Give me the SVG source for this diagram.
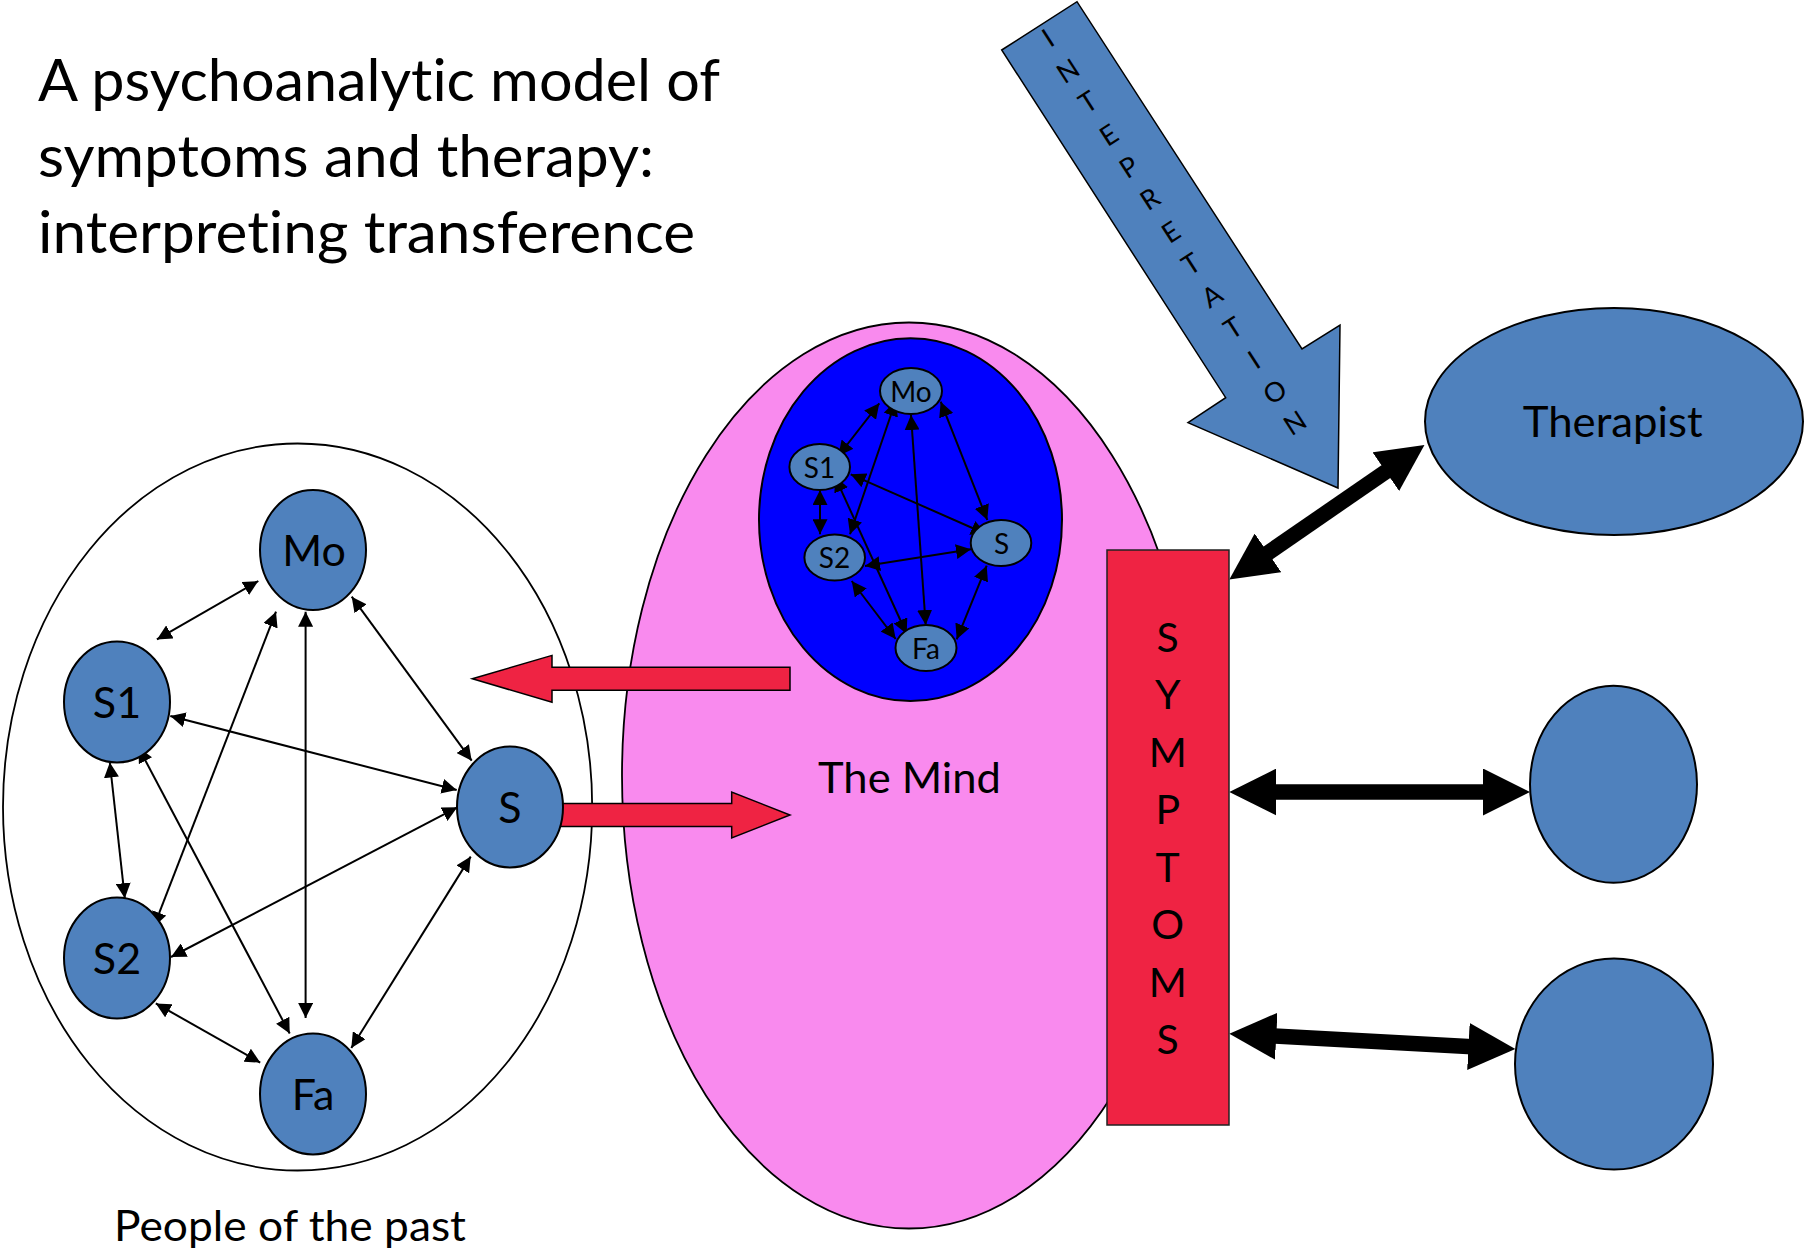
<svg xmlns="http://www.w3.org/2000/svg" width="1804" height="1248" viewBox="0 0 1804 1248">
<style>
text{font-family:Lato,"Open Sans","Liberation Sans",sans-serif;fill:#000;font-variant-ligatures:none;font-feature-settings:"liga" 0,"clig" 0}
.node{fill:#4F81BD;stroke:#000;stroke-width:2}
.lbl{font-size:43px;text-anchor:middle}
.slbl{font-size:28px;text-anchor:middle}
.thin{stroke:#000;stroke-width:2;fill:none;marker-start:url(#ah);marker-end:url(#ah)}
.thick{stroke:#000;stroke-width:15.5;fill:none;marker-start:url(#bh);marker-end:url(#bh)}
.red{fill:#EF2343;stroke:#000;stroke-width:1.5}
.il{font-size:27px;text-anchor:middle}
.sy{font-size:41px;text-anchor:middle}
</style>
<defs>
<marker id="ah" viewBox="0 0 15 15" refX="15" refY="7.5" markerWidth="15" markerHeight="15" markerUnits="userSpaceOnUse" orient="auto-start-reverse"><path d="M0,0 L15,7.5 L0,15 z" fill="#000"/></marker>
<marker id="bh" viewBox="0 0 47 47" refX="27" refY="23.5" markerWidth="47" markerHeight="47" markerUnits="userSpaceOnUse" orient="auto-start-reverse"><path d="M0,0 L47,23.5 L0,47 z" fill="#000"/></marker>
</defs>
<rect width="1804" height="1248" fill="#fff"/>

<g id="title">
<text x="38" y="101" font-size="58" textLength="682" lengthAdjust="spacingAndGlyphs">A psychoanalytic model of</text>
<text x="38" y="177" font-size="58" textLength="616" lengthAdjust="spacingAndGlyphs">symptoms and therapy:</text>
<text x="38" y="253" font-size="58" textLength="657" lengthAdjust="spacingAndGlyphs">interpreting transference</text>
</g>

<g id="people-of-the-past">
<ellipse cx="297.6" cy="807" rx="294.6" ry="363.5" fill="none" stroke="#000" stroke-width="1.8"/>
<text x="114" y="1240.7" font-size="43" textLength="352" lengthAdjust="spacingAndGlyphs">People of the past</text>
</g>

<g id="the-mind">
<ellipse cx="909" cy="775.5" rx="287" ry="453" fill="#F98AEE" stroke="#000" stroke-width="1.8"/>
<ellipse cx="910.5" cy="519.7" rx="151.5" ry="181.4" fill="#0000FF" stroke="#000" stroke-width="2"/>
<text x="909.5" y="792.7" font-size="43" text-anchor="middle" textLength="183" lengthAdjust="spacingAndGlyphs">The Mind</text>
</g>

<g id="connectors">
<polygon class="red" points="472.3,678.8 552,655.4 552,667.3 790,667.3 790,690.3 552,690.3 552,702.2"/>
<polygon class="red" points="550,803.5 731.7,803.5 731.7,792 790,815 731.7,838 731.7,826.5 550,826.5"/>
<line class="thin" x1="156.9" y1="639.4" x2="258.3" y2="581"/>
<line class="thin" x1="153.8" y1="926.9" x2="276" y2="611.7"/>
<line class="thin" x1="305.6" y1="1018" x2="305.6" y2="611.7"/>
<line class="thin" x1="351.7" y1="596.7" x2="471.7" y2="760.7"/>
<line class="thin" x1="170.3" y1="716" x2="456.7" y2="790"/>
<line class="thin" x1="109.8" y1="762.5" x2="124.8" y2="898.2"/>
<line class="thin" x1="138.5" y1="747.5" x2="289.7" y2="1033.5"/>
<line class="thin" x1="171" y1="957" x2="457.3" y2="807.3"/>
<line class="thin" x1="155.8" y1="1003.4" x2="260.2" y2="1062.6"/>
<line class="thin" x1="470.7" y1="856.6" x2="351.3" y2="1048"/>
<line class="thin" x1="879.3" y1="403.3" x2="838.3" y2="456"/>
<line class="thin" x1="895.7" y1="401" x2="850" y2="534.3"/>
<line class="thin" x1="911" y1="415" x2="925.7" y2="625"/>
<line class="thin" x1="940.7" y1="401.7" x2="987.3" y2="520"/>
<line class="thin" x1="850.7" y1="474.3" x2="986" y2="534"/>
<line class="thin" x1="820" y1="490" x2="820" y2="534.3"/>
<line class="thin" x1="835" y1="476.7" x2="906.7" y2="634"/>
<line class="thin" x1="865" y1="566" x2="971" y2="549.3"/>
<line class="thin" x1="851.7" y1="581" x2="895.7" y2="639"/>
<line class="thin" x1="986.7" y1="565.7" x2="956.7" y2="639.3"/>
<line class="thick" x1="1245.8" y1="568.2" x2="1408" y2="456.3"/>
<line class="thick" x1="1249.3" y1="792" x2="1510" y2="792"/>
<line class="thick" x1="1249.3" y1="1034.7" x2="1495.4" y2="1047.9"/>
</g>

<g id="node-mo"><ellipse class="node" cx="313" cy="550" rx="53" ry="60"/><text class="lbl" x="314" y="565.5">Mo</text></g>
<g id="node-s1"><ellipse class="node" cx="117" cy="702" rx="53" ry="60.5"/><text class="lbl" x="117" y="717.5">S1</text></g>
<g id="node-s2"><ellipse class="node" cx="117" cy="958" rx="53" ry="60.5"/><text class="lbl" x="117" y="973.5">S2</text></g>
<g id="node-fa"><ellipse class="node" cx="313" cy="1094" rx="53" ry="60.5"/><text class="lbl" x="313" y="1109.5">Fa</text></g>
<g id="node-s"><ellipse class="node" cx="510" cy="807" rx="53" ry="60.5"/><text class="lbl" x="510" y="822.5">S</text></g>

<g id="inner-mo"><ellipse class="node" cx="911" cy="391" rx="31" ry="23"/><text class="slbl" x="911" y="401.5">Mo</text></g>
<g id="inner-s1"><ellipse class="node" cx="819.7" cy="467" rx="30.3" ry="23"/><text class="slbl" x="819.5" y="477.5">S1</text></g>
<g id="inner-s2"><ellipse class="node" cx="834.7" cy="557.5" rx="30.3" ry="23"/><text class="slbl" x="834.5" y="568">S2</text></g>
<g id="inner-s"><ellipse class="node" cx="1001" cy="543" rx="30.3" ry="23"/><text class="slbl" x="1001.5" y="553.5">S</text></g>
<g id="inner-fa"><ellipse class="node" cx="926" cy="648" rx="30.5" ry="23"/><text class="slbl" x="926" y="658.5">Fa</text></g>

<g id="interpretation">
<polygon points="1001.7,50 1077,1.7 1302,349 1340,325 1338,488 1188,422.7 1225.7,397.7" fill="#4F81BD" stroke="#000" stroke-width="1.5"/>
<text class="il" transform="translate(1048,38) rotate(-32.8)" y="9.5">I</text>
<text class="il" transform="translate(1068,71) rotate(-32.8)" y="9.5">N</text>
<text class="il" transform="translate(1088,102) rotate(-32.8)" y="9.5">T</text>
<text class="il" transform="translate(1109,135) rotate(-32.8)" y="9.5">E</text>
<text class="il" transform="translate(1129,167) rotate(-32.8)" y="9.5">P</text>
<text class="il" transform="translate(1150,199) rotate(-32.8)" y="9.5">R</text>
<text class="il" transform="translate(1171,232) rotate(-32.8)" y="9.5">E</text>
<text class="il" transform="translate(1191,264) rotate(-32.8)" y="9.5">T</text>
<text class="il" transform="translate(1212,296) rotate(-32.8)" y="9.5">A</text>
<text class="il" transform="translate(1233,328) rotate(-32.8)" y="9.5">T</text>
<text class="il" transform="translate(1254,360) rotate(-32.8)" y="9.5">I</text>
<text class="il" transform="translate(1275,392) rotate(-32.8)" y="9.5">O</text>
<text class="il" transform="translate(1295,423) rotate(-32.8)" y="9.5">N</text>
</g>

<g id="symptoms">
<rect x="1107" y="550" width="122" height="575" fill="#EF2343" stroke="#222" stroke-width="1.5"/>
<text class="sy" x="1167.7" y="651.7">S</text>
<text class="sy" x="1167.7" y="709.2">Y</text>
<text class="sy" x="1167.7" y="766.7">M</text>
<text class="sy" x="1167.7" y="824.2">P</text>
<text class="sy" x="1167.7" y="881.7">T</text>
<text class="sy" x="1167.7" y="939.2">O</text>
<text class="sy" x="1167.7" y="996.7">M</text>
<text class="sy" x="1167.7" y="1054.2">S</text>
</g>

<g id="therapist"><ellipse class="node" cx="1614" cy="421.5" rx="189" ry="113.5"/><text x="1612.7" y="437.3" font-size="43" text-anchor="middle" textLength="180" lengthAdjust="spacingAndGlyphs">Therapist</text></g>
<g id="person-1"><ellipse class="node" cx="1613.5" cy="784.3" rx="83.5" ry="98.5"/></g>
<g id="person-2"><ellipse class="node" cx="1614" cy="1064" rx="99" ry="105.6"/></g>
</svg>
